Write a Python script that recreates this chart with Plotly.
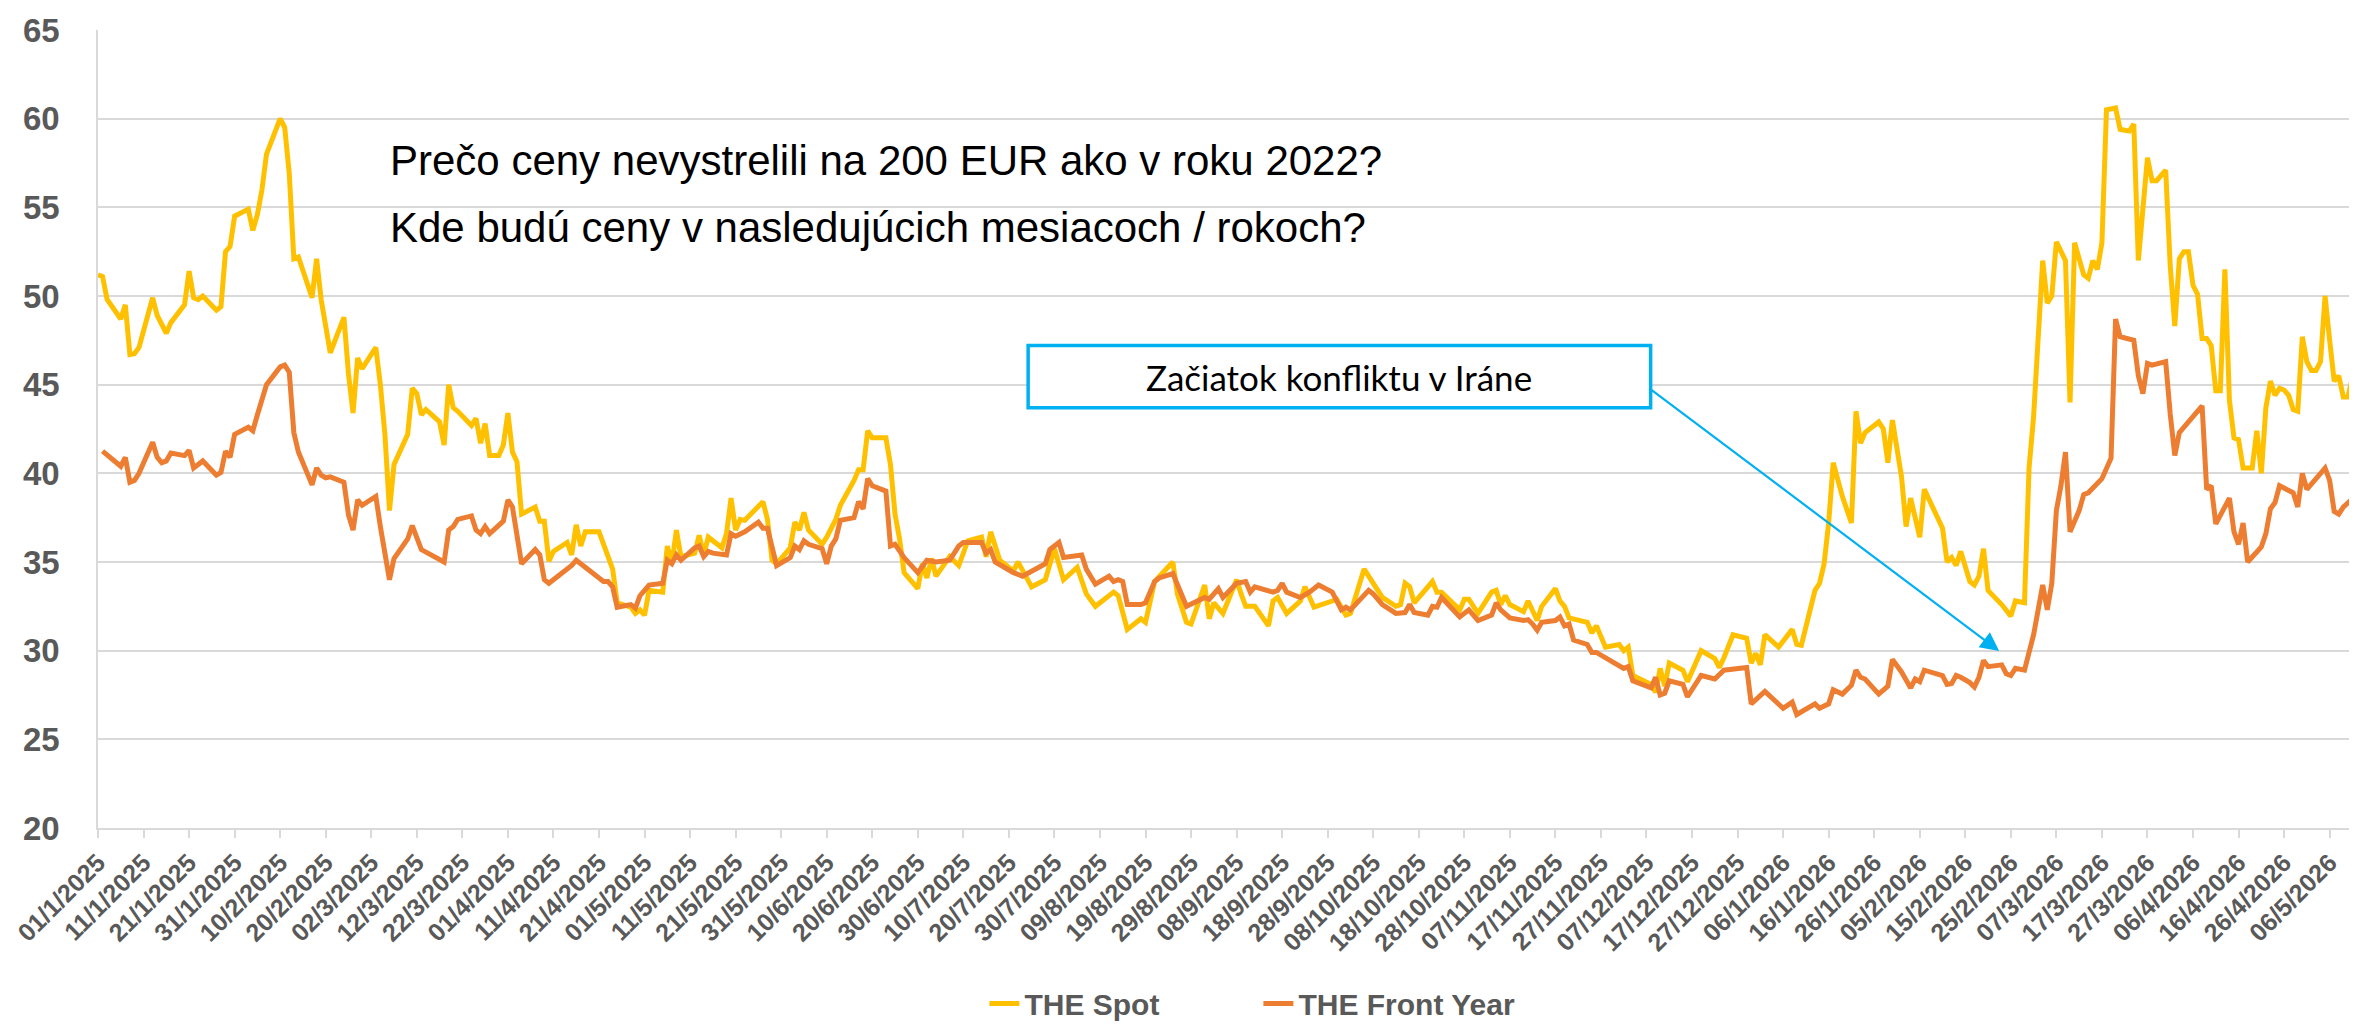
import pandas as pd
import plotly.graph_objects as go

FONT = "Liberation Sans"
GREY = "#595959"
GRID = "#D9D9D9"
SPOT_COLOR = "#FFC000"
FY_COLOR = "#ED7D31"
BLUE = "#00B0F0"

# THE Spot (EUR/MWh)
spot_dates = [
    "2025-01-01", "2025-01-02", "2025-01-03", "2025-01-06", "2025-01-07", "2025-01-08", "2025-01-09", "2025-01-10",
    "2025-01-13", "2025-01-14", "2025-01-16", "2025-01-17", "2025-01-20", "2025-01-21", "2025-01-22", "2025-01-23",
    "2025-01-24", "2025-01-27", "2025-01-28", "2025-01-29", "2025-01-30", "2025-01-31",
    "2025-02-03", "2025-02-04", "2025-02-05", "2025-02-06", "2025-02-07", "2025-02-10", "2025-02-11", "2025-02-12",
    "2025-02-13", "2025-02-14", "2025-02-17", "2025-02-18", "2025-02-19", "2025-02-21", "2025-02-24", "2025-02-25",
    "2025-02-26", "2025-02-27", "2025-02-28",
    "2025-03-03", "2025-03-04", "2025-03-05", "2025-03-06", "2025-03-07", "2025-03-10", "2025-03-11", "2025-03-12",
    "2025-03-13", "2025-03-14", "2025-03-17", "2025-03-18", "2025-03-19", "2025-03-20", "2025-03-21", "2025-03-24",
    "2025-03-25", "2025-03-26", "2025-03-27", "2025-03-28", "2025-03-30", "2025-03-31",
    "2025-04-01", "2025-04-02", "2025-04-03", "2025-04-04", "2025-04-07", "2025-04-08", "2025-04-09", "2025-04-10",
    "2025-04-11", "2025-04-14", "2025-04-15", "2025-04-16", "2025-04-17", "2025-04-18", "2025-04-21", "2025-04-23",
    "2025-04-24", "2025-04-25", "2025-04-28", "2025-04-29", "2025-04-30",
    "2025-05-01", "2025-05-02", "2025-05-05", "2025-05-06", "2025-05-07", "2025-05-08", "2025-05-09", "2025-05-12",
    "2025-05-13", "2025-05-14", "2025-05-15", "2025-05-18", "2025-05-19", "2025-05-20", "2025-05-21", "2025-05-22",
    "2025-05-23", "2025-05-27", "2025-05-28", "2025-05-29", "2025-05-30",
    "2025-06-02", "2025-06-03", "2025-06-04", "2025-06-05", "2025-06-06", "2025-06-09", "2025-06-10", "2025-06-12",
    "2025-06-13", "2025-06-16", "2025-06-17", "2025-06-18", "2025-06-19", "2025-06-20", "2025-06-23", "2025-06-24",
    "2025-06-25", "2025-06-26", "2025-06-27", "2025-06-30",
    "2025-07-01", "2025-07-02", "2025-07-03", "2025-07-04", "2025-07-07", "2025-07-09", "2025-07-11", "2025-07-14",
    "2025-07-15", "2025-07-16", "2025-07-18", "2025-07-21", "2025-07-22", "2025-07-25", "2025-07-28", "2025-07-30",
    "2025-08-01", "2025-08-04", "2025-08-06", "2025-08-08", "2025-08-12", "2025-08-13", "2025-08-15", "2025-08-18",
    "2025-08-19", "2025-08-21", "2025-08-25", "2025-08-26", "2025-08-28", "2025-08-29",
    "2025-09-01", "2025-09-02", "2025-09-03", "2025-09-05", "2025-09-08", "2025-09-09", "2025-09-10", "2025-09-12",
    "2025-09-15", "2025-09-16", "2025-09-17", "2025-09-19", "2025-09-22", "2025-09-23", "2025-09-25", "2025-09-29",
    "2025-09-30",
    "2025-10-02", "2025-10-03", "2025-10-06", "2025-10-09", "2025-10-10", "2025-10-13", "2025-10-14", "2025-10-15",
    "2025-10-16", "2025-10-17", "2025-10-21", "2025-10-22", "2025-10-23", "2025-10-27", "2025-10-28", "2025-10-29",
    "2025-10-31",
    "2025-11-03", "2025-11-04", "2025-11-05", "2025-11-06", "2025-11-07", "2025-11-10", "2025-11-11", "2025-11-13",
    "2025-11-14", "2025-11-17", "2025-11-18", "2025-11-19", "2025-11-20", "2025-11-24", "2025-11-25", "2025-11-26",
    "2025-11-28",
    "2025-12-01", "2025-12-02", "2025-12-03", "2025-12-04", "2025-12-08", "2025-12-09", "2025-12-10", "2025-12-11",
    "2025-12-12", "2025-12-15", "2025-12-16", "2025-12-19", "2025-12-22", "2025-12-23", "2025-12-24", "2025-12-26",
    "2025-12-29", "2025-12-30", "2025-12-31",
    "2026-01-01", "2026-01-02", "2026-01-05", "2026-01-08", "2026-01-09", "2026-01-10", "2026-01-13", "2026-01-14",
    "2026-01-15", "2026-01-16", "2026-01-17", "2026-01-19", "2026-01-21", "2026-01-22", "2026-01-23", "2026-01-24",
    "2026-01-27", "2026-01-28", "2026-01-29", "2026-01-30",
    "2026-02-01", "2026-02-02", "2026-02-03", "2026-02-05", "2026-02-06", "2026-02-10", "2026-02-11", "2026-02-12",
    "2026-02-13", "2026-02-14", "2026-02-16", "2026-02-17", "2026-02-18", "2026-02-19", "2026-02-20", "2026-02-23",
    "2026-02-25", "2026-02-26", "2026-02-28",
    "2026-03-01", "2026-03-02", "2026-03-04", "2026-03-05", "2026-03-06", "2026-03-07", "2026-03-09", "2026-03-10",
    "2026-03-11", "2026-03-13", "2026-03-14", "2026-03-15", "2026-03-16", "2026-03-17", "2026-03-18", "2026-03-20",
    "2026-03-21", "2026-03-22", "2026-03-23", "2026-03-24", "2026-03-25", "2026-03-27", "2026-03-28", "2026-03-29",
    "2026-03-31",
    "2026-04-01", "2026-04-02", "2026-04-03", "2026-04-04", "2026-04-05", "2026-04-06", "2026-04-07", "2026-04-08",
    "2026-04-09", "2026-04-10", "2026-04-11", "2026-04-12", "2026-04-13", "2026-04-14", "2026-04-15", "2026-04-16",
    "2026-04-17", "2026-04-19", "2026-04-20", "2026-04-21", "2026-04-22", "2026-04-23", "2026-04-24", "2026-04-25",
    "2026-04-26", "2026-04-27", "2026-04-28", "2026-04-29", "2026-04-30",
    "2026-05-01", "2026-05-02", "2026-05-03", "2026-05-04", "2026-05-05", "2026-05-06", "2026-05-07", "2026-05-08",
    "2026-05-09", "2026-05-10", "2026-05-12",
]
spot_vals = [
    51.2, 51.1, 49.8, 48.7, 49.5, 46.7, 46.75, 47.1,
    49.9, 48.9, 47.9, 48.5, 49.5, 51.4, 49.9, 49.8,
    50.0, 49.2, 49.4, 52.5, 52.8, 54.5,
    54.9, 53.7, 54.6, 56.0, 58.0, 60.0, 59.5, 56.9,
    52.1, 52.2, 49.9, 52.1, 49.8, 46.8, 48.8, 45.6,
    43.4, 46.5, 45.9,
    47.1, 45.0, 42.2, 37.9, 40.5, 42.2, 44.8, 44.5,
    43.3, 43.6, 42.9, 41.6, 45.0, 43.7, 43.5, 42.7,
    43.1, 41.7, 42.8, 41.0, 41.0, 41.6,
    43.4, 41.2, 40.65, 37.7, 38.1, 37.3, 37.3, 35.05,
    35.6, 36.1, 35.4, 37.1, 35.9, 36.7, 36.7, 35.3,
    34.6, 32.7, 32.45, 32.1, 32.3,
    32.0, 33.4, 33.3, 35.9, 34.9, 36.8, 35.3, 35.5,
    36.5, 35.4, 36.4, 35.8, 36.6, 38.6, 36.8, 37.4,
    37.35, 38.4, 37.4, 35.1, 34.9,
    35.8, 37.25, 36.8, 37.8, 36.8, 36.0, 36.4, 37.4,
    38.2, 39.6, 40.2, 40.2, 42.4, 42.0, 42.0, 40.5,
    37.7, 36.3, 34.4, 33.5,
    34.9, 34.1, 35.2, 34.2, 35.3, 34.8, 36.2, 36.4,
    35.3, 36.7, 35.1, 34.5, 35.0, 33.6, 34.0, 35.75,
    34.0, 34.7, 33.2, 32.5, 33.3, 33.1, 31.2, 31.8,
    31.6, 33.9, 35.0, 33.2, 31.6, 31.5,
    33.7, 31.8, 32.7, 32.1, 34.0, 33.2, 32.5, 32.5,
    31.4, 32.8, 33.0, 32.1, 32.8, 33.6, 32.45, 32.8,
    32.9,
    32.0, 32.1, 34.6, 33.4, 33.0, 32.5, 32.6, 33.8,
    33.6, 32.7, 33.9, 33.3, 33.3, 32.3, 32.9, 32.9,
    32.1,
    33.3, 33.4, 32.6, 33.1, 32.6, 32.2, 32.8, 31.7,
    32.5, 33.5, 32.8, 32.5, 31.85, 31.6, 31.0, 31.4,
    30.2,
    30.35, 30.0, 30.2, 28.6, 28.1, 27.65, 29.0, 28.0,
    29.3, 28.9, 28.25, 30.0, 29.55, 29.05, 29.6, 30.9,
    30.7, 29.3, 29.85,
    29.2, 30.9, 30.2, 31.2, 30.35, 30.3, 33.4, 33.8,
    34.9, 37.2, 40.6, 38.7, 37.2, 43.5, 41.7, 42.3,
    42.9, 42.5, 40.6, 43.0,
    39.8, 37.0, 38.6, 36.4, 39.1, 36.9, 35.0, 35.25,
    34.8, 35.6, 33.9, 33.7, 34.2, 35.75, 33.4, 32.6,
    31.95, 32.8, 32.7,
    40.3, 43.2, 52.0, 49.6, 50.0, 53.05, 52.0, 44.0,
    53.0, 51.2, 51.0, 52.0, 51.5, 53.0, 60.5, 60.6,
    59.4, 59.35, 59.3, 59.7, 52.0, 57.8, 56.5, 56.5,
    57.1,
    51.7, 48.3, 52.1, 52.5, 52.5, 50.6, 50.1, 47.6,
    47.6, 47.2, 44.65, 44.65, 51.5, 44.1, 42.0, 41.9,
    40.3, 40.3, 42.4, 40.0, 43.7, 45.2, 44.4, 44.8,
    44.7, 44.4, 43.6, 43.5, 47.7,
    46.3, 45.8, 45.8, 46.3, 50.0, 47.5, 45.2, 45.5,
    44.3, 44.3, 46.5,
]

# THE Front Year (EUR/MWh)
fy_dates = [
    "2025-01-02", "2025-01-06", "2025-01-07", "2025-01-08", "2025-01-09", "2025-01-10", "2025-01-13", "2025-01-14",
    "2025-01-15", "2025-01-16", "2025-01-17", "2025-01-20", "2025-01-21", "2025-01-22", "2025-01-24", "2025-01-27",
    "2025-01-28", "2025-01-29", "2025-01-30", "2025-01-31",
    "2025-02-03", "2025-02-04", "2025-02-05", "2025-02-06", "2025-02-07", "2025-02-10", "2025-02-11", "2025-02-12",
    "2025-02-13", "2025-02-14", "2025-02-17", "2025-02-18", "2025-02-19", "2025-02-20", "2025-02-21", "2025-02-24",
    "2025-02-25", "2025-02-26", "2025-02-27", "2025-02-28",
    "2025-03-03", "2025-03-04", "2025-03-05", "2025-03-06", "2025-03-07", "2025-03-10", "2025-03-11", "2025-03-12",
    "2025-03-13", "2025-03-18", "2025-03-19", "2025-03-20", "2025-03-21", "2025-03-24", "2025-03-25", "2025-03-26",
    "2025-03-27", "2025-03-28", "2025-03-31",
    "2025-04-01", "2025-04-02", "2025-04-04", "2025-04-07", "2025-04-08", "2025-04-09", "2025-04-10", "2025-04-11",
    "2025-04-14", "2025-04-15", "2025-04-16", "2025-04-22", "2025-04-23", "2025-04-24", "2025-04-25", "2025-04-28",
    "2025-04-29", "2025-04-30",
    "2025-05-02", "2025-05-05", "2025-05-06", "2025-05-07", "2025-05-08", "2025-05-09", "2025-05-12", "2025-05-13",
    "2025-05-14", "2025-05-15", "2025-05-16", "2025-05-19", "2025-05-20", "2025-05-21", "2025-05-23", "2025-05-26",
    "2025-05-27", "2025-05-28", "2025-05-30",
    "2025-06-02", "2025-06-03", "2025-06-04", "2025-06-05", "2025-06-06", "2025-06-09", "2025-06-10", "2025-06-11",
    "2025-06-12", "2025-06-13", "2025-06-16", "2025-06-17", "2025-06-18", "2025-06-19", "2025-06-20", "2025-06-23",
    "2025-06-24", "2025-06-25", "2025-06-27", "2025-06-30",
    "2025-07-01", "2025-07-02", "2025-07-04", "2025-07-07", "2025-07-08", "2025-07-09", "2025-07-10", "2025-07-14",
    "2025-07-15", "2025-07-16", "2025-07-17", "2025-07-21", "2025-07-23", "2025-07-28", "2025-07-29", "2025-07-31",
    "2025-08-01", "2025-08-04", "2025-08-05", "2025-08-06", "2025-08-08", "2025-08-11", "2025-08-12", "2025-08-13",
    "2025-08-14", "2025-08-15", "2025-08-18", "2025-08-19", "2025-08-21", "2025-08-22", "2025-08-25", "2025-08-28",
    "2025-09-01", "2025-09-02", "2025-09-04", "2025-09-05", "2025-09-08", "2025-09-10", "2025-09-11", "2025-09-12",
    "2025-09-16", "2025-09-17", "2025-09-18", "2025-09-19", "2025-09-22", "2025-09-24", "2025-09-26", "2025-09-29",
    "2025-10-01", "2025-10-02", "2025-10-03", "2025-10-07", "2025-10-08", "2025-10-10", "2025-10-13", "2025-10-15",
    "2025-10-16", "2025-10-17", "2025-10-20", "2025-10-21", "2025-10-22", "2025-10-23", "2025-10-27", "2025-10-29",
    "2025-10-31",
    "2025-11-03", "2025-11-04", "2025-11-05", "2025-11-07", "2025-11-10", "2025-11-11", "2025-11-12", "2025-11-13",
    "2025-11-14", "2025-11-17", "2025-11-18", "2025-11-19", "2025-11-20", "2025-11-21", "2025-11-24", "2025-11-25",
    "2025-11-26",
    "2025-12-02", "2025-12-03", "2025-12-04", "2025-12-08", "2025-12-09", "2025-12-10", "2025-12-11", "2025-12-12",
    "2025-12-15", "2025-12-16", "2025-12-19", "2025-12-22", "2025-12-24", "2025-12-29", "2025-12-30",
    "2026-01-02", "2026-01-06", "2026-01-08", "2026-01-09", "2026-01-13", "2026-01-14", "2026-01-16", "2026-01-17",
    "2026-01-19", "2026-01-21", "2026-01-22", "2026-01-23", "2026-01-24", "2026-01-27", "2026-01-29", "2026-01-30",
    "2026-02-01", "2026-02-03", "2026-02-04", "2026-02-05", "2026-02-06", "2026-02-10", "2026-02-11", "2026-02-12",
    "2026-02-13", "2026-02-14", "2026-02-16", "2026-02-17", "2026-02-18", "2026-02-19", "2026-02-20", "2026-02-23",
    "2026-02-24", "2026-02-25", "2026-02-26", "2026-02-28",
    "2026-03-01", "2026-03-02", "2026-03-04", "2026-03-05", "2026-03-06", "2026-03-07", "2026-03-08", "2026-03-09",
    "2026-03-10", "2026-03-12", "2026-03-13", "2026-03-14", "2026-03-17", "2026-03-19", "2026-03-20", "2026-03-21",
    "2026-03-24", "2026-03-25", "2026-03-26", "2026-03-27", "2026-03-28", "2026-03-31",
    "2026-04-01", "2026-04-02", "2026-04-03", "2026-04-08", "2026-04-09", "2026-04-10", "2026-04-11", "2026-04-14",
    "2026-04-15", "2026-04-16", "2026-04-17", "2026-04-18", "2026-04-21", "2026-04-22", "2026-04-23", "2026-04-24",
    "2026-04-25", "2026-04-28", "2026-04-29", "2026-04-30",
    "2026-05-01", "2026-05-05", "2026-05-06", "2026-05-07", "2026-05-08", "2026-05-09", "2026-05-12",
]
fy_vals = [
    41.25, 40.4, 40.9, 39.5, 39.6, 40.0, 41.75, 40.9,
    40.6, 40.7, 41.15, 41.0, 41.3, 40.3, 40.7, 39.9,
    40.05, 41.25, 40.9, 42.2,
    42.6, 42.4, 43.3, 44.2, 45.0, 46.0, 46.1, 45.7,
    42.3, 41.2, 39.35, 40.3, 39.9, 39.75, 39.8, 39.5,
    37.65, 36.8, 38.5, 38.2,
    38.7, 37.0, 35.3, 34.0, 35.2, 36.3, 37.05, 36.4,
    35.7, 35.0, 36.8, 37.0, 37.4, 37.6, 36.8, 36.6,
    37.0, 36.6, 37.3,
    38.5, 38.1, 34.9, 35.7, 35.4, 34.0, 33.8, 34.0,
    34.6, 34.8, 35.1, 33.9, 33.9, 33.6, 32.45, 32.6,
    32.4, 33.1,
    33.7, 33.8, 35.1, 34.9, 35.4, 35.1, 35.8, 35.9,
    35.3, 35.6, 35.5, 35.4, 36.6, 36.45, 36.7, 37.25,
    36.9, 36.9, 34.8,
    35.25, 35.9, 35.7, 36.2, 36.0, 35.75, 34.9, 35.9,
    36.3, 37.35, 37.5, 38.4, 38.0, 39.7, 39.3, 39.0,
    35.9, 36.0, 35.25, 34.4,
    34.8, 35.1, 35.0, 35.1, 35.5, 35.9, 36.1, 36.1,
    35.5, 35.7, 35.0, 34.4, 34.2, 34.9, 35.7, 36.1,
    35.25, 35.4, 35.4, 34.6, 33.75, 34.2, 33.9, 34.0,
    33.9, 32.6, 32.6, 32.7, 33.9, 34.1, 34.35, 32.5,
    33.0, 32.9, 33.5, 33.0, 33.8, 33.9, 33.3, 33.6,
    33.3, 33.4, 33.8, 33.3, 33.0, 33.3, 33.7, 33.3,
    32.3, 32.45, 32.3, 33.4, 33.2, 32.6, 32.1, 32.15,
    32.6, 32.15, 32.0, 32.5, 32.45, 33.0, 31.9, 32.3,
    31.7,
    32.0, 32.7, 32.3, 31.85, 31.7, 31.75, 31.5, 31.15,
    31.6, 31.7, 31.9, 31.4, 31.5, 30.6, 30.35, 29.9,
    29.9,
    29.0, 29.1, 28.3, 27.9, 28.5, 27.5, 27.6, 28.3,
    28.1, 27.4, 28.6, 28.4, 28.9, 29.05, 27.0,
    27.7, 26.75, 27.1, 26.4, 27.0, 26.75, 27.0, 27.8,
    27.55, 28.05, 28.9, 28.5, 28.4, 27.55, 28.0, 29.5,
    28.8, 27.9, 28.4, 28.25, 28.9, 28.6, 28.1, 28.15,
    28.6, 28.5, 28.2, 27.95, 28.5, 29.45, 29.1, 29.2,
    28.7, 28.6, 29.0, 28.9,
    29.9, 30.9, 33.7, 32.3, 33.8, 37.9, 39.3, 41.2,
    36.7, 37.9, 38.8, 38.9, 39.7, 40.85, 48.7, 47.7,
    47.5, 45.5, 44.5, 46.2, 46.1, 46.3,
    43.35, 41.0, 42.3, 43.8, 39.1, 39.3, 37.15, 38.6,
    36.7, 36.0, 37.2, 35.0, 35.85, 36.6, 38.0, 38.35,
    39.3, 38.9, 38.1, 40.0,
    39.1, 40.3, 39.6, 37.85, 37.7, 38.1, 38.8,
]

x_start = "2025-01-01"
x_end = "2026-05-12 16:00"
tick_dates = pd.date_range("2025-01-01", "2026-05-06", freq="10D")
tick_text = [f"{d.day:02d}/{d.month}/{d.year}" for d in tick_dates]
y_ticks = [20, 25, 30, 35, 40, 45, 50, 55, 60, 65]

question_lines = [
    "Prečo ceny nevystrelili na 200 EUR ako v roku 2022?",
    "Kde budú ceny v nasledujúcich mesiacoch / rokoch?",
]
callout_text = "Začiatok konfliktu v Iráne"


fig = go.Figure()
fig.add_trace(go.Scatter(
    x=spot_dates, y=spot_vals, mode="lines", name="THE Spot",
    line=dict(color=SPOT_COLOR, width=5),
))
fig.add_trace(go.Scatter(
    x=fy_dates, y=fy_vals, mode="lines", name="THE Front Year",
    line=dict(color=FY_COLOR, width=5),
))

# white panel behind the two questions
fig.add_shape(type="rect", xref="paper", yref="paper",
              x0=0.1228, x1=0.6387, y0=0.674, y1=0.8786,
              fillcolor="white", line_width=0, layer="below")
for text, y in zip(question_lines, [0.836, 0.752]):
    fig.add_annotation(text=text, xref="paper", yref="paper", x=0.128, y=y,
                       xanchor="left", yanchor="middle", showarrow=False,
                       font=dict(family=FONT, size=42, color="black"))

# callout box with arrow
fig.add_shape(type="rect", xref="paper", yref="paper",
              x0=0.4112, x1=0.6864, y0=0.5266, y1=0.6047,
              fillcolor="white", line=dict(color=BLUE, width=3.5), layer="above")
fig.add_annotation(text=callout_text, xref="paper", yref="paper", x=0.5488, y=0.5657,
                   xanchor="center", yanchor="middle", showarrow=False,
                   font=dict(family="Lato", size=35, color="black"))
fig.add_annotation(text="", xref="paper", yref="paper", x=0.8405, y=0.2218,
                   ax=-349, ay=-262, showarrow=True, arrowhead=2, arrowsize=1.7,
                   arrowwidth=2.2, arrowcolor=BLUE, standoff=0)

fig.update_layout(
    width=2357, height=1024,
    margin=dict(l=90, r=3, t=22, b=195),
    plot_bgcolor="white", paper_bgcolor="white",
    font=dict(family=FONT, color=GREY),
    legend=dict(orientation="h", x=0.513, xanchor="center", y=-0.22, yanchor="middle",
                entrywidth=229, entrywidthmode="pixels",
                font=dict(family=FONT, size=30, color=GREY, weight="bold")),
    xaxis=dict(
        type="date", range=[x_start, x_end],
        tickmode="array", tickvals=tick_dates, ticktext=tick_text, tickangle=-45,
        tickfont=dict(family=FONT, size=25, color=GREY, weight="bold"),
        ticks="outside", ticklen=8, tickcolor=GRID, tickwidth=2,
        showgrid=False, showline=True, linecolor=GRID, linewidth=2,
    ),
    yaxis=dict(
        range=[20, 65], tickmode="array", tickvals=y_ticks,
        tickfont=dict(family=FONT, size=33, color=GREY, weight="bold"),
        ticklabelstandoff=30,
        showgrid=True, gridcolor=GRID, gridwidth=2, zeroline=False,
        showline=True, mirror=True, linecolor=GRID, linewidth=1.5,
    ),
)

fig.write_html("out.html")
